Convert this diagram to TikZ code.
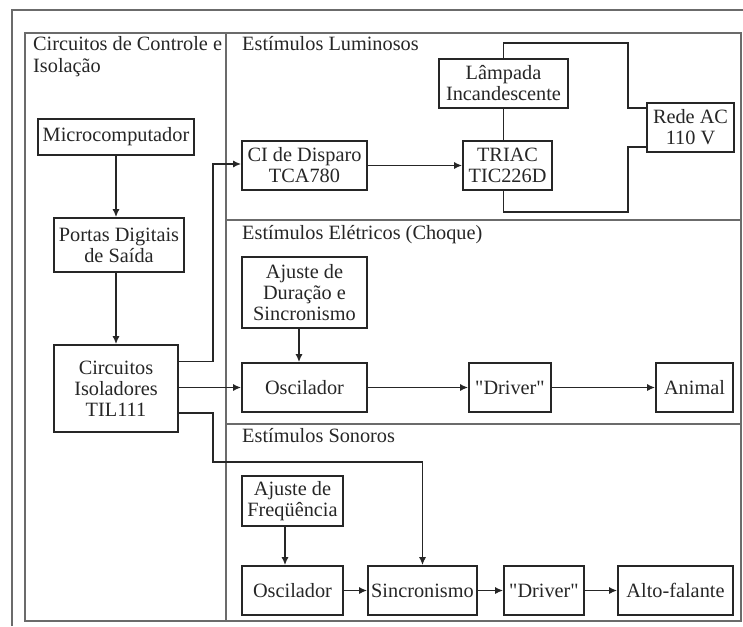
\documentclass[tikz,border=0pt]{standalone}
\usepackage{fontspec}
\setmainfont{Liberation Serif}[Ligatures=TeXOff]
\usepackage{xcolor}
\definecolor{frameGray}{HTML}{6B6B6B}
\definecolor{blockInk}{HTML}{262626}
\usetikzlibrary{arrows.meta}

\tikzset{
  blk/.style={draw=blockInk, line width=1.6pt, align=center, inner sep=0pt, text=blockInk},
  wire/.style={blockInk, line width=1.6pt},
  arr/.style={wire, -{Latex[length=8pt,width=7pt]}},
  sect/.style={frameGray, line width=1.2pt},
  title/.style={anchor=base west, inner sep=0pt, text=blockInk}
}

\begin{document}
\begin{tikzpicture}[x=1pt, y=-1pt, font=\fontsize{20.3}{21}\selectfont]
  \useasboundingbox (0,0) rectangle (743,626);
  % frames
  \draw[sect] (12,626) -- (12,10) -- (743,10);
  \draw[sect] (25,33) rectangle (741,621);
  \draw[sect] (226,33) -- (226,621);
  \draw[sect] (226,220) -- (741,220);
  \draw[sect] (226,424) -- (741,424);
  \node[title] (tctl) at (33,50) {Circuitos de Controle e};
  \node[title] (tiso) at (33,72) {Isolação};
  \node[title] (tlum) at (242,50) {Estímulos Luminosos};
  \node[title] (tele) at (242,239) {Estímulos Elétricos (Choque)};
  \node[title] (tson) at (242,442) {Estímulos Sonoros};

  % control and isolation
  \node[blk, minimum width=156pt, minimum height=36pt] (micro) at (116,137) {Microcomputador};
  \node[blk, minimum width=130pt, minimum height=54pt] (portas) at (119,245) {Portas Digitais\\de Saída};
  \node[blk, minimum width=124pt, minimum height=87pt] (iso) at (116,388.5) {Circuitos\\Isoladores\\TIL111};

  % light
  \node[blk, minimum width=125pt, minimum height=49pt] (ci) at (304.5,165.5) {CI de Disparo\\TCA780};
  \node[blk, minimum width=129pt, minimum height=49pt] (lampada) at (503.5,83.5) {Lâmpada\\Incandescente};
  \node[blk, minimum width=89pt, minimum height=49pt] (triac) at (507.5,165.5) {TRIAC\\TIC226D};
  \node[blk, minimum width=87pt, minimum height=49pt] (rede) at (690.5,127.5) {Rede AC\\110 V};

  % shock
  \node[blk, minimum width=125pt, minimum height=71pt] (ajdur) at (304.5,292.5) {Ajuste de\\Duração e\\Sincronismo};
  \node[blk, minimum width=125pt, minimum height=49pt] (osce) at (304.5,387.5) {Oscilador};
  \node[blk, minimum width=82pt, minimum height=49pt] (drve) at (510,387.5) {"Driver"};
  \node[blk, minimum width=77pt, minimum height=49pt] (animal) at (694.5,387.5) {Animal};

  % sound
  \node[blk, minimum width=101pt, minimum height=50pt] (ajfreq) at (292.5,501) {Ajuste de\\Freqüência};
  \node[blk, minimum width=101pt, minimum height=49pt] (oscs) at (292.5,590.5) {Oscilador};
  \node[blk, minimum width=109pt, minimum height=49pt] (sinc) at (422.5,590.5) {Sincronismo};
  \node[blk, minimum width=80pt, minimum height=49pt] (drvs) at (544,590.5) {"Driver"};
  \node[blk, minimum width=115pt, minimum height=49pt] (alto) at (675.5,590.5) {Alto-falante};

  % bend points
  \coordinate (kci) at (213,164);
  \coordinate (kson) at (213,462);
  \coordinate (ktop) at (628,43);
  \coordinate (kbot) at (628,212);

  \draw[arr] (micro.south) -- (micro.south |- portas.north);
  \draw[arr] (portas.south -| micro.south) -- (micro.south |- iso.north);
  \draw[arr] ([yshift=27pt]iso.east) -| (kci) -- (kci -| ci.west);
  \draw[arr] (iso.east |- osce.west) -- (osce.west);
  \draw[arr] ([yshift=-24.5pt]iso.east) -| (kson) -| (sinc.north);

  \draw[arr] (ci.east) -- (triac.west);
  \draw[wire] (lampada.south) -- (lampada.south |- triac.north);
  \draw[wire] (lampada.north) |- (ktop) |- ([yshift=19.5pt]rede.west);
  \draw[wire] ([yshift=-19.5pt]rede.west) -| (kbot) -| (lampada.south |- triac.south);

  \draw[arr] ([xshift=-5.5pt]ajdur.south) -- ([xshift=-5.5pt]osce.north);
  \draw[arr] (osce.east) -- (drve.west);
  \draw[arr] (drve.east) -- (animal.west);

  \draw[arr] ([xshift=-7.5pt]ajfreq.south) -- ([xshift=-7.5pt]oscs.north);
  \draw[arr] (oscs.east) -- (sinc.west);
  \draw[arr] (sinc.east) -- (drvs.west);
  \draw[arr] (drvs.east) -- (alto.west);
\end{tikzpicture}
\end{document}
